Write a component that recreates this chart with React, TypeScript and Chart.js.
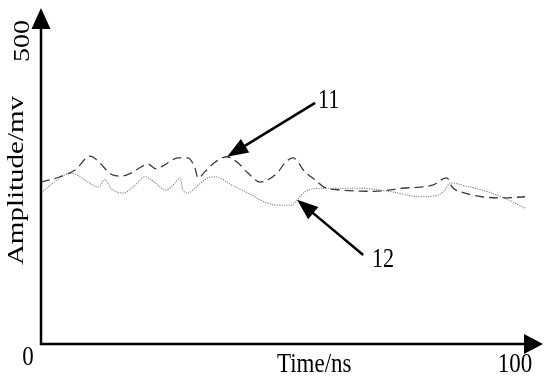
import React, { useEffect, useRef } from "react";
import { Chart, registerables } from "chart.js";

Chart.register(...registerables);

// Series 11 (dashed) — time (ns), amplitude (mV)
const series11X = [0, 3.9, 7.0, 10.1, 12.1, 14.2, 16.5, 18.5, 20.6, 22.0, 23.7, 25.1, 28.2, 30.2, 31.7, 32.3, 33.7, 35.8, 38.3, 40.5, 42.6, 45.1, 46.7, 48.8, 50.2, 51.9, 54.3, 56.4, 58.2, 61.9, 68.7, 74.3, 80.5, 83.5, 84.6, 87.2, 90.7, 94.9, 99.6];
const series11Y = [267, 276, 287, 310, 299, 281, 277, 282, 292, 297, 289, 294, 307, 307, 290, 274, 284, 300, 309, 299, 282, 267, 271, 284, 299, 307, 284, 271, 259, 254, 252, 257, 262, 274, 259, 249, 243, 241, 243];

// Series 12 (dotted)
const series12X = [0, 1.9, 6.2, 9.7, 11.7, 13.2, 14.4, 16.9, 19.3, 21.4, 23.5, 25.7, 27.6, 28.6, 29.2, 30.2, 32.3, 34.4, 35.8, 39.3, 42.6, 46.1, 48.8, 51.6, 52.7, 54.3, 57.8, 65.4, 72.2, 77.8, 81.7, 83.1, 84.2, 87.2, 92.0, 96.1, 99.6];
const series12Y = [249, 262, 282, 267, 259, 271, 257, 249, 262, 276, 266, 254, 266, 274, 254, 249, 262, 274, 276, 262, 249, 234, 229, 229, 238, 251, 257, 257, 251, 243, 246, 254, 266, 261, 251, 238, 224];

const xTicks = [0, 100];
const yTicks = [500];
const xTitle = "Time/ns";
const yTitle = "Amplitude/mv";

// Annotation arrows (data units): tip, tail, label anchor
const annotationLabels = ["11", "12"];
const annotationTips = [[38.3, 309], [52.7, 238]];
const annotationTails = [[56.4, 398], [66.3, 147]];
const annotationTextAt = [[57.0, 389], [68.1, 127]];

const FONT = '"Liberation Serif", "Times New Roman", serif';
const SX = 0.82;

function arrowHead(ctx: CanvasRenderingContext2D, tx: number, ty: number, fx: number, fy: number, len: number, half: number) {
  const dx = tx - fx, dy = ty - fy;
  const d = Math.hypot(dx, dy);
  const ux = dx / d, uy = dy / d;
  const bx = tx - ux * len, by = ty - uy * len;
  ctx.beginPath();
  ctx.moveTo(tx, ty);
  ctx.lineTo(bx - uy * half, by + ux * half);
  ctx.lineTo(bx + uy * half, by - ux * half);
  ctx.closePath();
  ctx.fill();
}

function drawText(ctx: CanvasRenderingContext2D, text: string, x: number, y: number, size: number, align: CanvasTextAlign, baseline: CanvasTextBaseline, rotate = false) {
  ctx.save();
  ctx.translate(x, y);
  if (rotate) {
    ctx.rotate(-Math.PI / 2);
    ctx.scale(1, SX);
  } else {
    ctx.scale(SX, 1);
  }
  ctx.font = `${size}px ${FONT}`;
  ctx.textAlign = align;
  ctx.textBaseline = baseline;
  ctx.fillStyle = "#000";
  ctx.fillText(text, 0, 0);
  ctx.restore();
}

const decorPlugin = {
  id: "decor",
  afterDatasetsDraw(chart: any) {
    const ctx: CanvasRenderingContext2D = chart.ctx;
    const xs = chart.scales.x;
    const ys = chart.scales.y;
    const x0 = xs.getPixelForValue(0);
    const y0 = ys.getPixelForValue(0);
    ctx.save();
    ctx.strokeStyle = "#000";
    ctx.fillStyle = "#000";
    ctx.lineWidth = 2.5;
    ctx.setLineDash([]);
    // y axis
    const yTop = ys.getPixelForValue(500) - 33;
    ctx.beginPath();
    ctx.moveTo(x0, y0 + 1);
    ctx.lineTo(x0, yTop + 15);
    ctx.stroke();
    arrowHead(ctx, x0, yTop, x0, y0, 21, 9.5);
    // x axis
    const xRight = xs.getPixelForValue(100) + 16;
    ctx.beginPath();
    ctx.moveTo(x0 - 1, y0);
    ctx.lineTo(xRight - 15, y0);
    ctx.stroke();
    arrowHead(ctx, xRight, y0, x0, y0, 19, 10);

    // tick labels
    xTicks.forEach((v) => {
      const px = xs.getPixelForValue(v);
      if (v === 0) drawText(ctx, String(v), px - 13, y0 + 21, 28, "center", "alphabetic");
      else drawText(ctx, String(v), px - 12, y0 + 28, 28, "center", "alphabetic");
    });
    yTicks.forEach((v) => {
      const py = ys.getPixelForValue(v);
      drawText(ctx, String(v), x0 - 18, py, 28, "center", "middle", true);
    });
    // titles
    drawText(ctx, xTitle, x0 + 236, y0 + 28, 28, "left", "alphabetic");
    drawText(ctx, yTitle, x0 - 24, (ys.top + ys.bottom) / 2 - 12, 29, "center", "middle", true);

    // annotations
    ctx.lineWidth = 2.5;
    annotationLabels.forEach((lab, i) => {
      const tx = xs.getPixelForValue(annotationTips[i][0]);
      const ty = ys.getPixelForValue(annotationTips[i][1]);
      const fx = xs.getPixelForValue(annotationTails[i][0]);
      const fy = ys.getPixelForValue(annotationTails[i][1]);
      const dx = tx - fx, dy = ty - fy;
      const d = Math.hypot(dx, dy);
      ctx.beginPath();
      ctx.moveTo(fx, fy);
      ctx.lineTo(tx - (dx / d) * 15, ty - (dy / d) * 15);
      ctx.stroke();
      arrowHead(ctx, tx, ty, fx, fy, 21, 8);
      const lx = xs.getPixelForValue(annotationTextAt[i][0]);
      const ly = ys.getPixelForValue(annotationTextAt[i][1]);
      drawText(ctx, lab, lx, ly, 27, "left", "alphabetic");
    });
    ctx.restore();
  },
};

export default function App() {
  const ref = useRef<HTMLCanvasElement | null>(null);
  useEffect(() => {
    document.body.style.margin = "0";
    const canvas = ref.current;
    if (!canvas) return;
    const chart = new Chart(canvas, {
      type: "line",
      data: {
        datasets: [
          {
            label: "11",
            data: series11X.map((x, i) => ({ x, y: series11Y[i] })),
            borderColor: "#3a3a3a",
            borderWidth: 1.3,
            borderDash: [9, 5],
            pointRadius: 0,
            fill: false,
            cubicInterpolationMode: "monotone",
          },
          {
            label: "12",
            data: series12X.map((x, i) => ({ x, y: series12Y[i] })),
            borderColor: "#808080",
            borderWidth: 1.1,
            borderDash: [1.2, 1.2],
            pointRadius: 0,
            fill: false,
            cubicInterpolationMode: "monotone",
          },
        ],
      },
      options: {
        animation: false,
        responsive: false,
        maintainAspectRatio: false,
        layout: { padding: { left: 41, right: 23, top: 41, bottom: 36 } },
        plugins: { legend: { display: false }, tooltip: { enabled: false } },
        scales: {
          x: { type: "linear", min: 0, max: 100, display: false },
          y: { type: "linear", min: 0, max: 500, display: false },
        },
      },
      plugins: [decorPlugin],
    });
    return () => chart.destroy();
  }, []);
  return <canvas ref={ref} width={550} height={380} style={{ display: "block" }} />;
}
